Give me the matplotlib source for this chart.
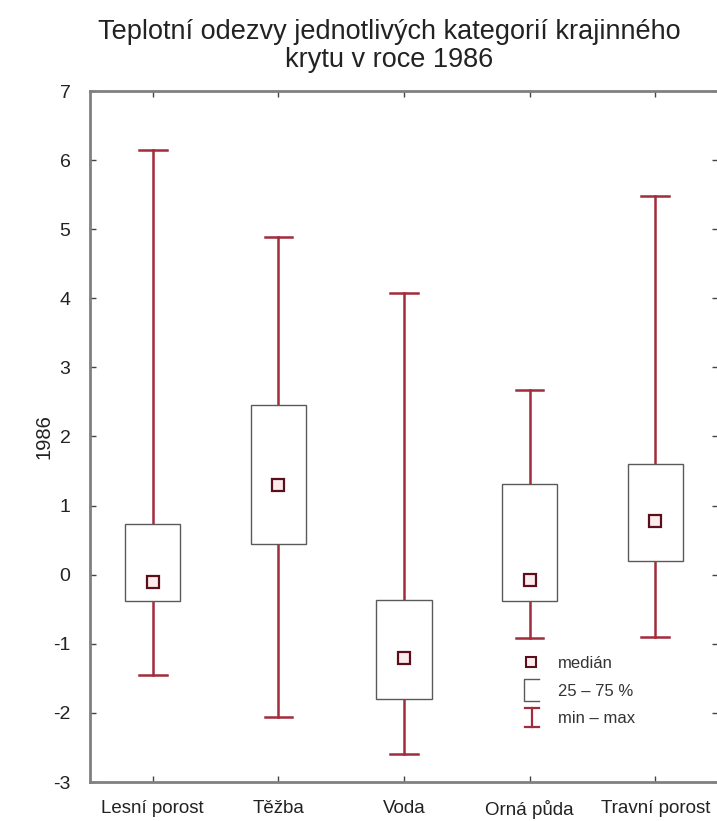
import matplotlib
matplotlib.use("Agg")
import matplotlib.pyplot as plt
from matplotlib.lines import Line2D
from matplotlib.patches import Rectangle
from matplotlib.legend_handler import HandlerBase

plt.rcParams['font.family'] = ['Liberation Sans', 'DejaVu Sans']

categories = ["Lesní porost", "Těžba", "Voda", "Orná půda", "Travní porost"]
medians = [-0.10, 1.30, -1.20, -0.08, 0.78]
q1 = [-0.38, 0.44, -1.80, -0.38, 0.20]
q3 = [0.74, 2.45, -0.37, 1.31, 1.60]
mins = [-1.45, -2.06, -2.60, -0.92, -0.90]
maxs = [6.15, 4.88, 4.08, 2.68, 5.48]

title = "Teplotní odezvy jednotlivých kategorií krajinného\nkrytu v roce 1986"
ylabel = "1986"
yticks = [-3, -2, -1, 0, 1, 2, 3, 4, 5, 6, 7]
legend_labels = ["medián", "25 – 75 %", "min – max"]

whisk_color = "#a02c3c"
box_color = "#5a5a5a"
spine_color = "#808080"

fig = plt.figure(figsize=(7.17, 8.21), dpi=100)
ax = fig.add_axes([90/717, 39/821, 628/717, 691/821])

positions = list(range(1, len(categories) + 1))
stats = []
for i in range(len(categories)):
    stats.append(dict(med=medians[i], q1=q1[i], q3=q3[i],
                      whislo=mins[i], whishi=maxs[i], fliers=[], label=categories[i]))

ax.bxp(stats, positions=positions, widths=0.44, capwidths=0.22,
       showfliers=False, patch_artist=True,
       boxprops=dict(facecolor="white", edgecolor=box_color, linewidth=1.0, zorder=3),
       whiskerprops=dict(color=whisk_color, linewidth=1.8, zorder=2),
       capprops=dict(color=whisk_color, linewidth=1.8, zorder=2),
       medianprops=dict(linestyle="none"))

ax.plot(positions, medians, linestyle="none", marker="s", markersize=8,
        markerfacecolor="#fdecee", markeredgecolor="#5a0f1a", markeredgewidth=1.6, zorder=5)

ax.set_xlim(0.5, 5.5)
ax.set_ylim(-3, 7)
ax.set_yticks(yticks)
ax.set_yticklabels([str(t) for t in yticks])
ax.set_xticks(positions)
ax.set_xticklabels(categories)

ax.tick_params(axis="both", direction="in", length=4, width=1, color="#444444",
               top=True, right=True, labelcolor="#222222")
ax.tick_params(axis="y", labelsize=14, pad=14)
ax.tick_params(axis="x", labelsize=13.5, pad=13)
for s in ax.spines.values():
    s.set_color(spine_color)
    s.set_linewidth(2.0)

ax.set_ylabel(ylabel, fontsize=14.5, color="#222222", labelpad=0)

fig.text(389/717, 1 - 46/821, title, ha="center", va="center", fontsize=19.5,
         color="#222222", linespacing=1.1)


class HandlerBracket(HandlerBase):
    def create_artists(self, legend, orig_handle, xdescent, ydescent, width, height, fontsize, trans):
        x0 = width * 0.2
        x1 = width * 0.9
        y0 = -height * 0.45
        y1 = height * 1.4
        l = Line2D([x1, x0, x0, x1], [y1, y1, y0, y0], color=box_color, linewidth=1.0, transform=trans)
        return [l]


class HandlerIBar(HandlerBase):
    def create_artists(self, legend, orig_handle, xdescent, ydescent, width, height, fontsize, trans):
        xc = width * 0.55
        hw = width * 0.32
        y0 = -height * 0.3
        y1 = height * 1.25
        v = Line2D([xc, xc], [y0, y1], color=whisk_color, linewidth=1.6, transform=trans)
        t = Line2D([xc - hw, xc + hw], [y1, y1], color=whisk_color, linewidth=1.6, transform=trans)
        b = Line2D([xc - hw, xc + hw], [y0, y0], color=whisk_color, linewidth=1.6, transform=trans)
        return [v, t, b]


h_med = Line2D([], [], linestyle="none", marker="s", markersize=7,
               markerfacecolor="#fdecee", markeredgecolor="#5a0f1a", markeredgewidth=1.5)
h_box = Rectangle((0, 0), 1, 1)
h_bar = Line2D([], [])
leg = ax.legend([h_med, h_box, h_bar], legend_labels,
                handler_map={h_box: HandlerBracket(), h_bar: HandlerIBar()},
                loc="upper left", bbox_to_anchor=((505 - 90) / 628, (782 - 641) / 691),
                frameon=False, fontsize=12, handlelength=1.3, handletextpad=1.0,
                labelspacing=0.75, labelcolor="#333333")

fig.savefig("out.png", dpi=100)
